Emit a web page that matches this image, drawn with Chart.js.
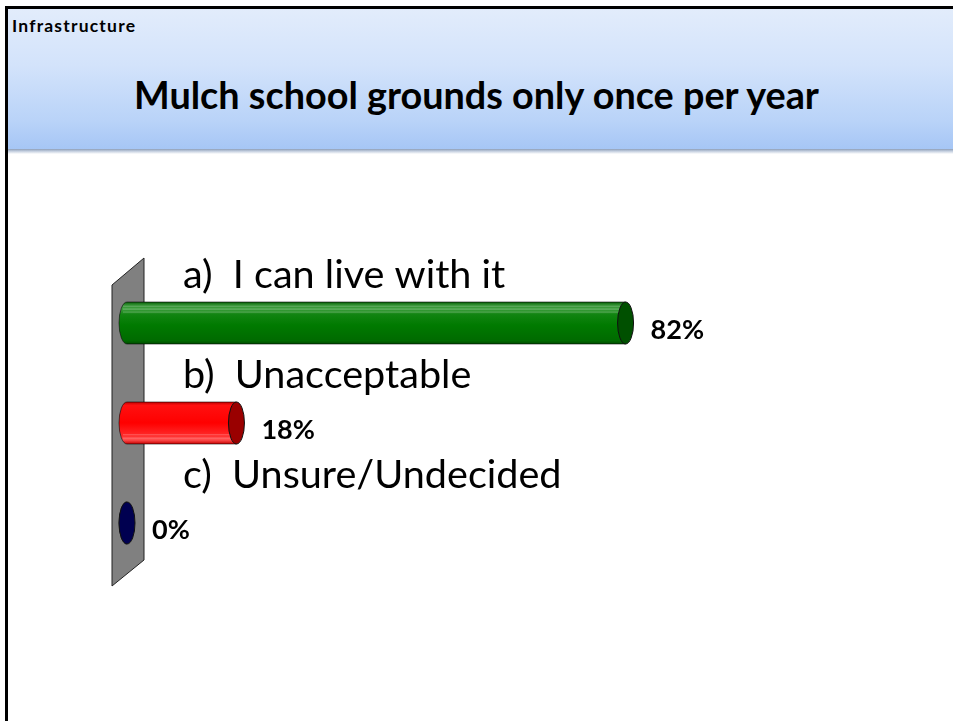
<!DOCTYPE html>
<html>
<head>
<meta charset="utf-8">
<script src="https://cdn.jsdelivr.net/npm/chart.js@4/dist/chart.umd.min.js"></script>
<style>
  html, body { margin:0; padding:0; background:#fff; }
  body { width:953px; height:721px; position:relative; overflow:hidden; font-family: Lato, "Open Sans", sans-serif; }
  #frame { position:absolute; left:5px; top:6px; width:960px; height:730px; border-left:3px solid #000; border-top:3px solid #000; }
  #header { position:absolute; left:8px; top:9px; width:945px; height:140px;
    background: linear-gradient(to bottom, #e2ecfb 0%, #d3e3fb 40%, #b9d3f8 80%, #a6c6f5 100%); }
  #shadow { position:absolute; left:8px; top:149px; width:945px; height:5px;
    background: linear-gradient(to bottom, #8e9fb8 0%, #c9d3e2 50%, #ffffff 100%); }
  #section { position:absolute; left:12px; top:15px; font-weight:700; font-size:17.5px; letter-spacing:1.2px; color:#000; white-space:nowrap; }
  #title { position:absolute; left:0; width:953px; top:72px; text-align:center; font-weight:700; font-size:37.8px; color:#000; white-space:nowrap; }
  #c { position:absolute; left:0; top:0; }
</style>
</head>
<body>
<div id="header"></div>
<div id="shadow"></div>
<div id="frame"></div>
<div id="section">Infrastructure</div>
<div id="title">Mulch school grounds only once per year</div>
<canvas id="c" width="953" height="721"></canvas>
<script>
const categories = ["a)  I can live with it", "b)  Unacceptable", "c)  Unsure/Undecided"];
const values = [82, 18, 0];
const valueLabels = ["82%", "18%", "0%"];
const baseColors = ["#007800", "#ff0000", "#000050"];
const bodyStops = [
  [[0, "#0a5a0a"], [0.06, "#2a8a2a"], [0.16, "#3f9f3f"], [0.3, "#118411"], [0.55, "#007a00"], [0.92, "#006a00"], [1, "#004d00"]],
  [[0, "#c00000"], [0.08, "#ff1010"], [0.5, "#ff0000"], [0.8, "#ff2a2a"], [0.9, "#ff5050"], [1, "#c80000"]],
  [[0, "#000050"], [1, "#000050"]]
];
const capColors = ["#005000", "#9a0000", "#000050"];

const cylinder = {
  id: 'cylinder',
  beforeDatasetsDraw(chart) {
    const ctx = chart.ctx, a = chart.chartArea;
    ctx.save();
    ctx.beginPath();
    ctx.moveTo(a.left - 15, a.top + 12);
    ctx.lineTo(a.left + 17, a.top - 15);
    ctx.lineTo(a.left + 17, a.bottom - 13);
    ctx.lineTo(a.left - 15, a.bottom + 13);
    ctx.closePath();
    ctx.fillStyle = '#808080';
    ctx.fill();
    ctx.strokeStyle = '#222';
    ctx.lineWidth = 1;
    ctx.stroke();
    ctx.restore();
  },
  afterDatasetsDraw(chart) {
    const ctx = chart.ctx;
    const meta = chart.getDatasetMeta(0);
    const ys = chart.scales.y;
    ctx.save();
    meta.data.forEach((el, i) => {
      const h = el.height, rx = 8;
      const top = el.y - h / 2, bot = el.y + h / 2;
      const g = ctx.createLinearGradient(0, top, 0, bot);
      bodyStops[i].forEach(s => g.addColorStop(s[0], s[1]));
      ctx.beginPath();
      ctx.moveTo(el.x, top);
      ctx.lineTo(el.base, top);
      ctx.ellipse(el.base, el.y, rx, h / 2, 0, -Math.PI / 2, -Math.PI * 1.5, true);
      ctx.lineTo(el.x, bot);
      ctx.closePath();
      ctx.fillStyle = g;
      ctx.fill();
      ctx.strokeStyle = 'rgba(0,0,0,0.55)';
      ctx.lineWidth = 1;
      ctx.stroke();
      if (el.x - el.base > 4) {
        ctx.strokeStyle = 'rgba(255,255,255,0.25)';
        const fr = i === 0 ? [0.1, 0.17, 0.24] : [0.78, 0.86];
        fr.forEach(f => {
          ctx.beginPath();
          ctx.moveTo(el.base - 4, top + f * h);
          ctx.lineTo(el.x, top + f * h);
          ctx.stroke();
        });
      }
      ctx.beginPath();
      ctx.ellipse(el.x, el.y, rx, h / 2, 0, 0, Math.PI * 2);
      ctx.fillStyle = capColors[i];
      ctx.fill();
      ctx.strokeStyle = '#111';
      ctx.stroke();
      ctx.fillStyle = '#000';
      ctx.font = 'bold 27px Lato, "Open Sans", sans-serif';
      ctx.textBaseline = 'middle';
      ctx.textAlign = 'left';
      ctx.fillText(valueLabels[i], el.x + rx + 17, el.y + 7);
      ctx.font = '39.6px Lato, "Open Sans", sans-serif';
      ctx.textBaseline = 'alphabetic';
      ctx.fillText(categories[i], chart.chartArea.left + 56, ys.getPixelForValue(i) - 35);
    });
    ctx.restore();
  }
};

new Chart(document.getElementById('c'), {
  type: 'bar',
  data: {
    labels: categories,
    datasets: [{
      data: values,
      backgroundColor: baseColors,
      borderWidth: 0,
      barPercentage: 0.42,
      categoryPercentage: 1
    }]
  },
  options: {
    indexAxis: 'y',
    responsive: false,
    animation: false,
    layout: { padding: { left: 127, right: 218, top: 273, bottom: 148 } },
    scales: {
      x: { display: false, min: 0, max: 100 },
      y: { display: false }
    },
    plugins: { legend: { display: false }, tooltip: { enabled: false } }
  },
  plugins: [cylinder]
});
</script>
</body>
</html>
